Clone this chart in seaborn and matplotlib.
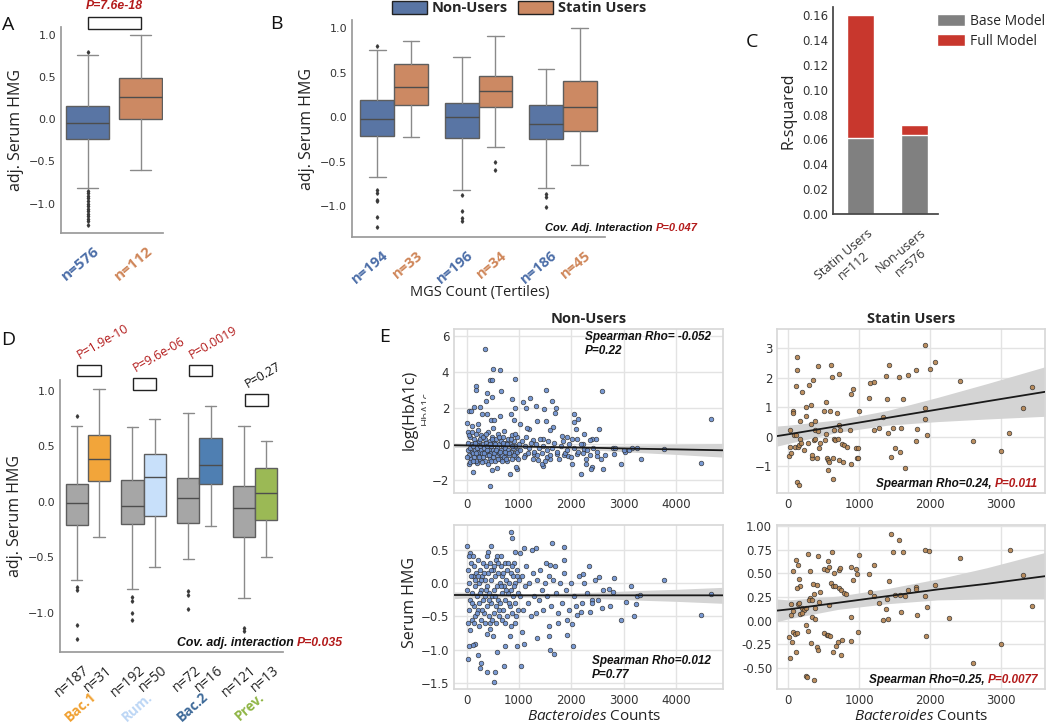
import numpy as np
import pandas as pd
import matplotlib
matplotlib.use('Agg')
import matplotlib.pyplot as plt
import seaborn as sns
from matplotlib.patches import Rectangle, Patch
from matplotlib.transforms import Bbox, ScaledTranslation, blended_transform_factory

#colours
NU_BOX = '#5975a4'
ST_BOX = '#cc8963'
NU_TXT = '#4c6ea8'
ST_TXT = '#cf8659'
PRED = '#b31b1b'
NU_PT = '#6b8fd0'
ST_PT = '#b5834f'
BI = dict(family=['Liberation Sans', 'DejaVu Sans'], fontweight='bold', style='italic')

# ---------------- panel A
a_labels = ['n=576', 'n=112']
a_med = [-0.04, 0.26]
a_q1 = [-0.24, 0.00]
a_q3 = [0.16, 0.49]
a_lo = [-0.82, -0.60]
a_hi = [0.76, 1.00]
a_fliers = [[0.80, -0.85, -0.88, -0.91, -0.94, -0.97, -1.00, -1.03, -1.06, -1.09,
             -1.12, -1.15, -1.18, -1.21, -1.25], []]
a_pval = 'P=7.6e-18'
a_bracket = [1.07, 1.21]

# ---------------- panel B
b_labels = ['n=194', 'n=33', 'n=196', 'n=34', 'n=186', 'n=45']
b_med = [-0.02, 0.345, 0.0, 0.30, -0.075, 0.12]
b_q1 = [-0.21, 0.14, -0.24, 0.11, -0.25, -0.16]
b_q3 = [0.19, 0.60, 0.16, 0.465, 0.14, 0.41]
b_lo = [-0.67, -0.22, -0.82, -0.34, -0.80, -0.54]
b_hi = [0.76, 0.86, 0.68, 0.92, 0.54, 1.00]
b_fliers = [[0.80, -0.82, -0.85, -0.93, -0.95, -1.13, -1.24], [],
            [-0.88, -1.06, -1.14, -1.17], [-0.51, -0.60],
            [-0.87, -0.90, -1.01], []]

# ---------------- panel C
c_groups = ['Statin Users\nn=112', 'Non-users\nn=576']
c_base = [0.061, 0.064]
c_full = [0.160, 0.072]
c_yticks = [0.00, 0.02, 0.04, 0.06, 0.08, 0.10, 0.12, 0.14, 0.16]

# ---------------- panel D
d_labels = ['n=187', 'n=31', 'n=192', 'n=50', 'n=72', 'n=16', 'n=121', 'n=13']
d_groups = ['Bac.1', 'Rum.', 'Bac.2', 'Prev.']
d_group_cols = ['#f0a030', '#bcd6f5', '#3e6a99', '#8fb545']
d_box_cols = ['#a6a6a6', '#f2a53a', '#a6a6a6', '#c8e0fa', '#a6a6a6', '#4f7fb2', '#a6a6a6', '#9bb955']
d_med = [-0.015, 0.386, -0.036, 0.225, 0.036, 0.332, -0.057, 0.078]
d_q1 = [-0.21, 0.186, -0.198, -0.13, -0.186, 0.162, -0.314, -0.162]
d_q3 = [0.162, 0.605, 0.195, 0.434, 0.21, 0.575, 0.144, 0.305]
d_lo = [-0.70, -0.317, -0.78, -0.59, -0.518, -0.213, -0.865, -0.497]
d_hi = [0.686, 1.01, 0.67, 0.74, 0.80, 0.865, 0.686, 0.545]
d_fliers = [[0.77, -0.77, -0.79, -1.11, -1.23], [], [-0.86, -0.89, -1.0, -1.06], [],
            [-0.80, -0.84, -0.96], [], [-1.13, -1.16], []]
d_pvals = ['P=1.9e-10', 'P=9.6e-06', 'P=0.0019', 'P=0.27']
d_pcols = [PRED, PRED, PRED, '#111111']
d_br_lo = [1.13, 1.009, 1.13, 0.865]
d_br_hi = [1.234, 1.114, 1.234, 0.97]

# ---------------- panel E  (x = Bacteroides counts, y = value)
st_hba1c = [(127, 2.70), (117, 2.27), (413, 2.40), (600, 2.44), (708, 2.12), (610, 2.02), (1918, 3.12),
            (1421, 2.44), (1374, 2.06), (1562, 2.04), (1679, 2.09), (1801, 2.28), (1989, 2.29),
            (2064, 2.54), (2415, 1.89), (3438, 1.68), (108, 1.72), (192, 1.51), (286, 1.77), (352, 1.92),
            (886, 1.47), (914, 1.62), (1154, 1.84), (1205, 1.87), (1135, 1.33), (1384, 1.28), (1609, 1.30),
            (249, 1.02), (314, 1.08), (61, 0.87), (70, 0.82), (249, 0.70), (507, 0.87), (530, 1.19),
            (582, 0.87), (685, 0.82), (990, 0.87), (1918, 0.99), (1918, 0.60), (3306, 0.99), (1327, 0.68),
            (164, 0.53), (314, 0.45), (380, 0.53), (718, 0.41), (28, 0.25), (80, 0.08), (112, 0.08),
            (375, 0.23), (413, 0.19), (530, 0.10), (638, 0.25), (732, 0.24), (868, 0.23), (1205, 0.25),
            (1276, 0.29), (1477, 0.31), (1585, 0.32), (1806, 0.27), (1946, 0.08), (1402, 0.14), (3110, 0.12),
            (14, -0.65), (28, -0.34), (42, -0.54), (94, -0.35), (131, -0.35), (145, -0.26), (169, -0.08),
            (183, -0.20), (220, -0.45), (272, -0.20), (338, -0.70), (333, -0.60), (357, -0.11), (375, -0.06),
            (408, -0.70), (431, -0.36), (445, -0.20), (520, -0.11), (539, -0.70), (553, -0.77), (577, -0.85),
            (553, -1.13), (624, -1.41), (633, -0.70), (647, -0.08), (661, -0.09), (699, -0.07), (750, -0.25),
            (718, -0.79), (788, -0.26), (774, -0.85), (821, -0.34), (877, -0.91), (952, -0.36), (976, -0.37),
            (961, -0.70), (976, -0.73), (117, -1.52), (155, -1.63), (1440, -0.68), (1501, -0.37),
            (1576, -0.50), (1646, -1.05), (1792, -0.14), (2594, -0.15), (3002, -0.48)]

st_hmg = [(1445, 0.92), (1557, 0.85), (1477, 0.72), (1609, 0.73), (1923, 0.75), (1984, 0.74), (3119, 0.75),
          (2415, 0.66), (281, 0.70), (413, 0.68), (619, 0.72), (990, 0.69), (108, 0.64), (131, 0.59),
          (61, 0.52), (305, 0.52), (563, 0.63), (502, 0.55), (539, 0.54), (577, 0.57), (638, 0.50),
          (713, 0.54), (727, 0.56), (886, 0.57), (948, 0.55), (961, 0.49), (914, 0.43), (1130, 0.49),
          (1201, 0.59), (1421, 0.42), (2059, 0.38), (3306, 0.48), (155, 0.44), (164, 0.37), (117, 0.35),
          (342, 0.39), (399, 0.38), (446, 0.30), (305, 0.24), (357, 0.28), (600, 0.40), (633, 0.37),
          (652, 0.37), (718, 0.35), (746, 0.32), (779, 0.29), (1144, 0.30), (1205, 0.26), (1688, 0.32),
          (1646, 0.26), (1792, 0.36), (1797, 0.34), (1571, 0.27), (1501, 0.27), (1923, 0.26), (811, 0.28),
          (37, 0.18), (131, 0.18), (145, 0.19), (70, 0.10), (197, 0.13), (220, 0.11), (249, 0.13),
          (286, 0.22), (333, 0.22), (380, 0.13), (427, 0.20), (572, 0.17), (1271, 0.19), (1384, 0.23),
          (1374, 0.12), (1581, 0.09), (1946, 0.14), (3438, 0.16), (33, 0.06), (164, 0.07), (192, 0.08),
          (333, 0.04), (371, 0.02), (877, 0.04), (1327, 0.01), (1402, 0.02), (1806, 0.06), (2256, 0.03),
          (9, -0.17), (47, -0.22), (70, -0.12), (89, -0.14), (127, -0.13), (108, -0.33), (23, -0.39),
          (249, -0.05), (277, -0.11), (314, -0.24), (408, -0.28), (413, -0.31), (502, -0.13), (539, -0.15),
          (558, -0.15), (586, -0.16), (633, -0.33), (675, -0.27), (694, -0.22), (741, -0.36), (755, -0.20),
          (877, -0.21), (980, -0.12), (1932, -0.16), (3002, -0.25), (253, -0.58), (263, -0.59),
          (361, -0.63), (2594, -0.45)]

nu_hba1c = [(351, 5.28), (498, 4.17), (632, 4.11), (447, 3.56), (479, 3.56), (932, 3.61), (172, 3.22),
            (172, 3.04), (396, 2.87), (485, 2.63), (376, 2.39), (651, 2.96), (1512, 3.04), (2584, 2.96),
            (1219, 2.57), (868, 2.54), (1627, 2.41), (1072, 2.37), (1327, 2.13), (1129, 2.00), (1474, 1.94),
            (925, 2.04), (45, 1.83), (83, 1.85), (134, 2.06), (249, 2.07), (389, 1.70), (466, 1.35),
            (530, 1.33), (645, 1.56), (842, 1.70), (906, 1.33), (1021, 1.15), (1187, 0.87), (1346, 1.30),
            (1525, 1.30), (1703, 2.04), (1697, 1.76), (1659, 0.96), (2054, 1.67), (2137, 1.39), (2054, 1.24),
            (2086, 0.83), (2539, 0.87), (4677, 1.39), (2239, 0.59), (2475, 0.28), (2392, 0.28), (6, 1.19),
            (96, 1.00), (32, 0.69), (300, 1.67), (223, 1.15), (510, 0.93), (715, 0.74), (1148, 0.93),
            (1263, 0.26), (1461, 0.28), (1589, 0.78), (1818, 0.48), (1914, 0.41), (2010, 0.30), (2105, 0.28),
            (2233, 0.04), (2361, 0.26), (2794, -0.19), (2839, -0.19), (3030, -0.43), (3158, -0.19),
            (3254, -0.19), (3337, -0.83), (2948, -1.11), (2820, -0.56), (2654, -0.61), (2488, -0.65),
            (2616, -1.35), (2392, -1.26), (2373, -1.39), (2188, -1.63), (2278, -1.07), (2278, -0.80),
            (3777, -0.26), (4479, -1.02), (3113, -0.30), (2999, -0.33), (2246, -0.24), (2105, -0.52),
            (2010, -1.07), (1946, -0.67), (1869, -0.61), (1735, -0.52), (1595, -0.80), (1544, -0.70),
            (1467, -1.22), (1436, -1.07), (1372, -0.89), (1289, -0.52), (1123, -0.61), (970, -1.39),
            (944, -1.26), (829, -1.63), (587, -1.30), (491, -1.44), (447, -2.30), (115, -1.54), (191, -1.04),
            (45, -1.11), (402, -1.11),
            (20, -0.3), (35, 0.1), (50, -0.6), (60, -0.2), (75, 0.4), (85, -0.8), (95, -0.4), (110, 0.0),
            (120, -0.5), (130, -0.1), (140, 0.3), (150, -0.7), (160, -0.3), (175, 0.6), (185, -0.9),
            (195, -0.2), (205, 0.1), (215, -0.6), (230, -0.4), (240, 0.2), (250, -0.1), (260, -0.8),
            (275, -0.3), (285, 0.5), (295, -0.5), (305, 0.0), (320, -0.7), (330, -0.2), (345, 0.3),
            (355, -0.9), (365, -0.4), (380, 0.1), (390, -0.6), (400, -0.1), (415, 0.7), (425, -0.3),
            (440, -0.8), (450, 0.2), (460, -0.5), (475, -0.1), (485, 0.4), (500, -0.7), (510, -0.3),
            (525, 0.1), (540, -0.9), (550, -0.4), (565, 0.3), (575, -0.6), (590, -0.2), (600, 0.6),
            (615, -0.5), (625, 0.0), (640, -0.8), (650, -0.3), (665, 0.2), (680, -0.6), (690, -0.1),
            (705, 0.4), (720, -0.7), (735, -0.2), (750, 0.1), (760, -0.5), (775, -0.9), (790, 0.3),
            (800, -0.3), (815, -0.6), (830, 0.0), (845, -0.4), (860, 0.5), (875, -0.8), (890, -0.2),
            (905, 0.2), (920, -0.5), (935, -0.1), (950, -0.7), (965, 0.4), (980, -0.3), (995, 0.0),
            (15, -0.7), (45, 0.5), (70, -1.0), (100, 0.7), (125, -0.9), (155, 0.1), (180, -0.5), (210, 0.8),
            (235, -0.7), (265, 0.3), (290, -1.0), (315, 0.4), (340, -0.5), (370, 0.6), (395, -0.3),
            (420, -0.6), (445, 0.0), (470, -0.9), (495, 0.3), (520, -0.5), (545, 0.0), (570, -0.3),
            (595, -0.8), (620, 0.4), (645, -0.4), (670, -0.9), (700, 0.1), (725, -0.4), (755, -0.8),
            (780, 0.0), (810, -0.5), (840, 0.3), (870, -0.1), (900, -0.6), (930, 0.6), (960, -0.4),
            (990, -0.8), (1030, -0.3), (1060, 0.2), (1090, -0.7), (1110, -0.1), (1140, 0.4), (1170, -0.5),
            (1200, -0.2), (1230, 0.1), (1260, -0.8), (1290, -0.4), (1320, 0.0), (1350, -0.6), (1380, -0.2),
            (1410, 0.3), (1440, -0.5), (1470, -0.1), (1500, -0.9), (1530, -0.3), (1560, 0.2), (1600, -0.6),
            (1640, -0.2), (1680, 0.1), (1720, -0.4), (1760, -0.8), (1800, -0.1), (1840, 0.2), (1880, -0.5),
            (1920, -0.3), (1960, 0.0), (2000, -0.7), (2060, -0.2), (2120, -0.4), (2180, 0.0), (2230, -0.5),
            (2300, -0.3), (2350, -0.6), (2420, -0.2), (2500, -0.4), (2560, -0.8)]

nu_hmg = [(842, 0.76), (874, 0.68), (13, 0.56), (472, 0.55), (1633, 0.60), (1869, 0.54), (1869, 0.35),
          (1104, 0.52), (1321, 0.52), (1257, 0.49), (64, 0.45), (415, 0.47), (925, 0.46), (587, 0.40),
          (651, 0.40), (1021, 0.45), (1512, 0.30), (1595, 0.27), (1697, 0.25), (2341, 0.26), (2233, 0.13),
          (3777, 0.05), (2820, 0.07), (3139, -0.04), (2539, 0.09), (2718, -0.09), (2616, -0.10),
          (2807, -0.14), (3254, -0.19), (3318, -0.18), (4677, -0.17), (3037, -0.29), (3235, -0.31),
          (2954, -0.55), (3190, -0.50), (4485, -0.48), (2743, -0.35), (2597, -0.37), (2392, -0.25),
          (2367, -0.43), (2182, -0.44), (2105, -0.48), (1914, -0.55), (2010, -0.61), (2041, -0.95),
          (1914, -0.78), (1755, -0.60), (1576, -0.64), (1583, -0.80), (1595, -1.00), (1672, -1.07),
          (1352, -0.83), (1053, -0.73), (1104, -0.91), (1040, -1.24), (957, -0.94), (829, -0.80),
          (734, -0.94), (715, -1.24), (574, -1.03), (542, -1.33), (523, -1.48), (383, -1.34), (255, -1.27),
          (268, -1.20), (223, -1.08), (160, -0.91), (115, -0.93), (51, -0.95), (32, -1.14), (498, -0.80),
          (396, -0.76), (447, -0.69),
          (15, -0.1), (30, 0.2), (45, -0.4), (55, 0.0), (70, -0.25), (85, 0.3), (95, -0.55), (110, -0.15),
          (120, 0.1), (135, -0.35), (145, 0.25), (160, -0.05), (170, -0.5), (185, 0.15), (195, -0.2),
          (210, 0.35), (220, -0.4), (235, 0.0), (245, -0.3), (260, 0.2), (270, -0.1), (285, -0.55),
          (295, 0.1), (310, -0.25), (320, 0.3), (335, -0.45), (345, 0.05), (360, -0.2), (375, 0.25),
          (385, -0.35), (400, -0.05), (410, 0.15), (425, -0.5), (435, -0.15), (450, 0.3), (460, -0.3),
          (475, 0.05), (490, -0.2), (500, 0.2), (515, -0.45), (525, -0.1), (540, 0.1), (555, -0.35),
          (565, 0.35), (580, -0.05), (595, -0.25), (605, 0.15), (620, -0.5), (630, 0.0), (645, -0.3),
          (660, 0.25), (670, -0.15), (685, 0.1), (700, -0.4), (715, -0.05), (725, 0.3), (740, -0.25),
          (755, 0.05), (770, -0.5), (780, 0.2), (795, -0.15), (810, 0.0), (825, -0.35), (840, 0.15),
          (850, -0.1), (865, -0.45), (880, 0.1), (895, -0.2), (905, 0.3), (920, -0.3), (935, 0.0),
          (950, -0.5), (965, 0.2), (980, -0.15), (995, 0.05), (25, -0.6), (40, 0.4), (65, -0.7), (80, 0.1),
          (105, -0.3), (125, 0.4), (150, -0.6), (165, 0.05), (190, -0.45), (215, 0.1), (230, -0.65),
          (255, -0.15), (280, 0.05), (300, -0.4), (325, 0.15), (350, -0.6), (370, -0.1), (395, 0.4),
          (420, -0.25), (445, -0.6), (470, 0.2), (495, -0.55), (520, 0.25), (545, -0.2), (570, -0.6),
          (600, 0.3), (625, -0.4), (650, -0.05), (675, -0.55), (705, 0.15), (730, -0.6), (760, -0.1),
          (790, 0.3), (815, -0.3), (845, -0.65), (870, 0.25), (900, -0.05), (925, -0.6), (955, 0.1),
          (985, -0.4), (1020, -0.2), (1050, 0.1), (1080, -0.4), (1110, -0.05), (1140, 0.25), (1170, -0.3),
          (1200, 0.0), (1230, -0.5), (1260, 0.15), (1290, -0.2), (1320, -0.45), (1350, 0.05), (1380, -0.25),
          (1410, 0.2), (1440, -0.1), (1470, -0.4), (1500, 0.0), (1540, -0.2), (1580, 0.1), (1620, -0.35),
          (1660, 0.05), (1700, -0.15), (1740, -0.45), (1780, 0.0), (1820, -0.3), (1860, 0.15), (1900, -0.1),
          (1950, -0.4), (2000, 0.0), (2050, -0.2), (2100, -0.35), (2150, 0.1), (2200, -0.3), (2250, 0.0),
          (2300, -0.15), (2400, -0.3), (2450, 0.05), (2520, -0.25)]

# regression line and confidence band
nu_fit_x = [-240, 0, 800, 1600, 2400, 3200, 4000, 4900]
nu_hba1c_fit = [-0.05, -0.06, -0.11, -0.15, -0.19, -0.24, -0.28, -0.33]
nu_hba1c_lo = [-0.17, -0.16, -0.17, -0.22, -0.31, -0.44, -0.56, -0.71]
nu_hba1c_hi = [0.07, 0.04, -0.05, -0.08, -0.07, -0.04, 0.00, 0.05]
nu_hmg_fit = [-0.18, -0.18, -0.185, -0.185, -0.185, -0.185, -0.185, -0.185]
nu_hmg_lo = [-0.235, -0.225, -0.21, -0.215, -0.23, -0.255, -0.275, -0.305]
nu_hmg_hi = [-0.135, -0.14, -0.16, -0.155, -0.14, -0.115, -0.095, -0.065]
st_fit_x = [-160, 0, 700, 1400, 2100, 2800, 3615]
st_hba1c_fit = [0.03, 0.09, 0.37, 0.65, 0.93, 1.21, 1.53]
st_hba1c_lo = [-0.31, -0.22, 0.16, 0.40, 0.52, 0.61, 0.70]
st_hba1c_hi = [0.37, 0.40, 0.58, 0.90, 1.34, 1.81, 2.38]
st_hmg_fit = [0.107, 0.12, 0.19, 0.26, 0.33, 0.39, 0.47]
st_hmg_lo = [-0.01, 0.02, 0.12, 0.18, 0.22, 0.23, 0.23]
st_hmg_hi = [0.23, 0.22, 0.26, 0.34, 0.44, 0.56, 0.72]

W, H = 1050, 726
sns.set_theme(style='white')
plt.rcParams['font.family'] = ['Open Sans', 'DejaVu Sans']
plt.rcParams['mathtext.fontset'] = 'custom'
plt.rcParams['mathtext.it'] = 'Open Sans:italic'
plt.rcParams['mathtext.rm'] = 'Open Sans'

fig = plt.figure(figsize=(W / 100, H / 100), dpi=100)
fig.patch.set_facecolor('white')


def add_ax(l, r, t, b):
    return fig.add_axes([l / W, 1 - b / H, (r - l) / W, (b - t) / H])


def ftext(x, y, s, **kw):
    return fig.text(x / W, 1 - y / H, s, **kw)


def shift(lbls, dx):
    for t in lbls:
        t.set_transform(t.get_transform() + ScaledTranslation(dx / 100, 0, fig.dpi_scale_trans))


def style_box_ax(ax, ysize=8):
    sns.despine(ax=ax)
    for s in ['left', 'bottom']:
        ax.spines[s].set_color('#9a9a9a')
    ax.tick_params(labelfontfamily='DejaVu Sans', labelsize=ysize, colors='#333333', length=0)
    ax.tick_params(axis='x', pad=8)
    ax.set_ylim(-1.35, 1.095)
    ax.set_yticks([-1.0, -0.5, 0.0, 0.5, 1.0])


def draw_boxes(ax, pos, width, med, q1, q3, lo, hi, fliers, cols):
    stats = [dict(med=m, q1=a, q3=b, whislo=l, whishi=h, fliers=f)
             for m, a, b, l, h, f in zip(med, q1, q3, lo, hi, fliers)]
    bp = ax.bxp(stats, positions=pos, widths=width, patch_artist=True, manage_ticks=False,
                boxprops=dict(edgecolor='#5e5e5e', linewidth=1.0),
                whiskerprops=dict(color='#8a8a8a', linewidth=1.0),
                capprops=dict(color='#8a8a8a', linewidth=1.0),
                medianprops=dict(color='#4d4d4d', linewidth=1.0),
                flierprops=dict(marker='d', markersize=1.8, markerfacecolor='#3a3a3a',
                                markeredgecolor='#3a3a3a'))
    for patch, c in zip(bp['boxes'], cols):
        patch.set_facecolor(c)


# ================= A
axa = add_ax(61, 163, 27, 233)
style_box_ax(axa)
draw_boxes(axa, [0, 1], 0.8, a_med, a_q1, a_q3, a_lo, a_hi, a_fliers, [NU_BOX, ST_BOX])
axa.set_xlim(-0.5, 1.42)
axa.set_xticks([0, 1])
axa.set_xticklabels(a_labels, rotation=40, ha='right', rotation_mode='anchor',
                    fontsize=11, fontweight='bold', fontfamily='Open Sans')
for t, c in zip(axa.get_xticklabels(), [NU_TXT, ST_TXT]):
    t.set_color(c)
shift(axa.get_xticklabels(), 5)
axa.set_ylabel('adj. Serum HMG', fontsize=11.5, color='#222222')
axa.add_patch(Rectangle((0, a_bracket[0]), 1, a_bracket[1] - a_bracket[0], facecolor='white',
                        edgecolor='#222222', lw=1, clip_on=False))
axa.text(0.5, a_bracket[1] + 0.06, a_pval, ha='center', va='bottom', color=PRED,
         fontsize=8.8, **BI)

# ================= B
axb = add_ax(352, 605, 20, 237)
style_box_ax(axb)
b_pos = [-0.2, 0.2, 0.8, 1.2, 1.8, 2.2]
draw_boxes(axb, b_pos, 0.4, b_med, b_q1, b_q3, b_lo, b_hi, b_fliers, [NU_BOX, ST_BOX] * 3)
axb.set_xlim(-0.5, 2.5)
axb.set_xticks(b_pos)
axb.set_xticklabels(b_labels, rotation=40, ha='right', rotation_mode='anchor',
                    fontsize=10.5, fontweight='bold', fontfamily='Open Sans')
for t, c in zip(axb.get_xticklabels(), [NU_TXT, ST_TXT] * 3):
    t.set_color(c)
shift(axb.get_xticklabels(), 5)
axb.set_ylabel('adj. Serum HMG', fontsize=11.5, color='#222222')
ftext(480, 292, 'MGS Count (Tertiles)', ha='center', va='center', fontsize=10.5, color='#222222')
pb = ftext(545, 228, 'Cov. Adj. Interaction ', ha='left', va='center', fontsize=8,
           color='#111111', **BI)
axb.annotate('P=0.047', xy=(1, 0.5), xycoords=pb, ha='left', va='center', fontsize=8,
             color=PRED, annotation_clip=False, **BI)
fig.legend(handles=[Patch(facecolor=NU_BOX, edgecolor='#222222'),
                    Patch(facecolor=ST_BOX, edgecolor='#222222')],
           labels=['Non-Users', 'Statin Users'], loc='center', bbox_to_anchor=(519 / W, 1 - 8 / H),
           ncol=2, frameon=False, prop=dict(family='Open Sans', weight='bold', size=10.5),
           handlelength=2.4, handleheight=1.0, handletextpad=0.3, columnspacing=0.75,
           borderpad=0, borderaxespad=0)

# ================= C
axc = add_ax(833, 938, 7, 214)
sns.barplot(x=c_groups, y=c_full, color='#c8372d', saturation=1, width=0.49,
            edgecolor='white', linewidth=1, ax=axc)
sns.barplot(x=c_groups, y=c_base, color='#808080', saturation=1, width=0.49,
            edgecolor='white', linewidth=1, ax=axc)
sns.despine(ax=axc)
for s in ['left', 'bottom']:
    axc.spines[s].set_color('#444444')
axc.set_xlim(-0.51, 1.44)
axc.set_ylim(0, 0.1667)
axc.set_yticks(c_yticks)
axc.set_yticklabels(['%.2f' % v for v in c_yticks])
axc.tick_params(labelfontfamily='DejaVu Sans', labelsize=8.5, colors='#333333', length=0)
axc.tick_params(axis='x', pad=9)
axc.set_xticks([0, 1])
axc.set_xticklabels(c_groups, rotation=40, ha='right', rotation_mode='anchor', fontsize=9,
                    fontfamily='Open Sans', multialignment='center')
shift(axc.get_xticklabels(), 6)
axc.set_ylabel('R-squared', fontsize=11.5, color='#222222')
axc.legend(handles=[Patch(facecolor='#808080'), Patch(facecolor='#c8372d')],
           labels=['Base Model', 'Full Model'], loc='upper left',
           bbox_to_anchor=(937 / W, 1 - 14 / H), bbox_transform=fig.transFigure,
           frameon=False, prop=dict(family='Open Sans', size=10), handlelength=2.0,
           handleheight=1.0, handletextpad=0.35, labelspacing=0.35, borderpad=0, borderaxespad=0)

# ================= D
axd = add_ax(60, 283, 380, 652)
style_box_ax(axd)
d_pos = [-0.2, 0.2, 0.8, 1.2, 1.8, 2.2, 2.8, 3.2]
draw_boxes(axd, d_pos, 0.4, d_med, d_q1, d_q3, d_lo, d_hi, d_fliers, d_box_cols)
axd.set_xlim(-0.5, 3.5)
axd.set_xticks(d_pos)
axd.set_xticklabels(d_labels, rotation=40, ha='right', rotation_mode='anchor',
                    fontsize=10, fontfamily='Open Sans', color='#222222')
shift(axd.get_xticklabels(), 6)
axd.set_ylabel('adj. Serum HMG', fontsize=11.5, color='#222222')
trd = blended_transform_factory(axd.transData, axd.transAxes)
for g, (name, col) in enumerate(zip(d_groups, d_group_cols)):
    axd.text(g + 0.04, -0.138, name, transform=trd, rotation=42, ha='right', va='top',
             rotation_mode='anchor', fontsize=10, fontweight='bold', color=col)
    axd.add_patch(Rectangle((g - 0.19, d_br_lo[g]), 0.42, d_br_hi[g] - d_br_lo[g],
                            facecolor='white', edgecolor='#222222', lw=1, clip_on=False))
    axd.text(g - 0.11, d_br_hi[g] + 0.03, d_pvals[g], rotation=30, ha='left', va='bottom',
             rotation_mode='anchor', fontsize=9, color=d_pcols[g])
pd_ = ftext(343, 643, 'P=0.035', ha='right', va='center', fontsize=8.8, color=PRED, **BI)
axd.annotate('Cov. adj. interaction ', xy=(0, 0.5), xycoords=pd_, ha='right', va='center',
             fontsize=8.8, color='#111111', annotation_clip=False, **BI)


# ================= E
def scatter_panel(ax, pts, col, fx, fy, lo, hi, xlim, ylim, xticks, yticks):
    df = pd.DataFrame(pts, columns=['count', 'value'])
    ax.grid(True, color='#e3e3e3', lw=1)
    ax.set_axisbelow(True)
    for s in ax.spines.values():
        s.set_visible(True)
        s.set_color('#d8d8d8')
    ax.fill_between(fx, lo, hi, color='#d4d4d4', lw=0, zorder=1)
    sns.scatterplot(data=df, x='count', y='value', color=col, s=11, edgecolor='#2e2e2e',
                    linewidth=0.5, alpha=0.9, ax=ax, zorder=2, legend=False)
    ax.plot(fx, fy, color='#1a1a1a', lw=1.3, zorder=3)
    ax.set_xlim(*xlim)
    ax.set_ylim(*ylim)
    ax.set_xticks(xticks)
    ax.set_yticks(yticks)
    ax.set_xlabel('')
    ax.set_ylabel('')
    ax.tick_params(labelfontfamily='DejaVu Sans', labelsize=8.5, colors='#333333', length=0)


ax1 = add_ax(454, 723, 329, 493)
scatter_panel(ax1, nu_hba1c, NU_PT, nu_fit_x, nu_hba1c_fit, nu_hba1c_lo, nu_hba1c_hi,
              (-240, 4900), (-2.7, 6.4), [0, 1000, 2000, 3000, 4000], [-2, 0, 2, 4, 6])
ax2 = add_ax(777, 1045, 329, 493)
scatter_panel(ax2, st_hba1c, ST_PT, st_fit_x, st_hba1c_fit, st_hba1c_lo, st_hba1c_hi,
              (-160, 3615), (-1.9, 3.66), [0, 1000, 2000, 3000], [-1, 0, 1, 2, 3])
ax3 = add_ax(454, 723, 525, 689)
scatter_panel(ax3, nu_hmg, NU_PT, nu_fit_x, nu_hmg_fit, nu_hmg_lo, nu_hmg_hi,
              (-240, 4900), (-1.59, 0.87), [0, 1000, 2000, 3000, 4000], [-1.5, -1.0, -0.5, 0.0, 0.5])
ax4 = add_ax(777, 1045, 525, 689)
scatter_panel(ax4, st_hmg, ST_PT, st_fit_x, st_hmg_fit, st_hmg_lo, st_hmg_hi,
              (-160, 3615), (-0.72, 1.01), [0, 1000, 2000, 3000],
              [-0.50, -0.25, 0.0, 0.25, 0.5, 0.75, 1.0])
ax4.set_yticklabels(['%.2f' % v for v in ax4.get_yticks()])

ax1.set_title('Non-Users', fontsize=10.5, fontweight='bold', pad=4)
ax2.set_title('Statin Users', fontsize=10.5, fontweight='bold', pad=4)

ax1.text(0.487, 0.985, 'Spearman Rho= -0.052\nP=0.22', transform=ax1.transAxes, ha='left',
         va='top', fontsize=8.5, color='#111111', **BI)
ax3.text(0.513, 0.128, 'Spearman Rho=0.012\nP=0.77', transform=ax3.transAxes, ha='left',
         va='center', fontsize=8.5, color='#111111', **BI)
for ax, p, rho, yy in [(ax2, 'P=0.011', 'Spearman Rho=0.24, ', 0.052),
                       (ax4, 'P=0.0077', 'Spearman Rho=0.25, ', 0.055)]:
    tp = ax.text(0.974, yy, p, transform=ax.transAxes, ha='right', va='center', fontsize=8.5,
                 color=PRED, **BI)
    ax.annotate(rho, xy=(0, 0.5), xycoords=tp, ha='right', va='center', fontsize=8.5,
                color='#111111', **BI)

ftext(410, 410, 'log(HbA1c)', rotation=90, ha='center', va='center', fontsize=11.5, color='#222222')
ghost = ftext(426, 408, 'HbA1c', rotation=90, ha='center', va='center', fontsize=8, color='#444444')
ghost.set_clip_box(Bbox([[419, 0], [426, H]]))
ghost.set_clip_on(True)
ftext(410, 603, 'Serum HMG', rotation=90, ha='center', va='center', fontsize=11.5, color='#222222')
ftext(594, 716, r'$\mathit{Bacteroides}$ Counts', ha='center', va='center', fontsize=11, color='#222222')
ftext(921, 716, r'$\mathit{Bacteroides}$ Counts', ha='center', va='center', fontsize=11, color='#222222')

# panel letters
for letter, x, y in [('A', 8, 25), ('B', 276, 24), ('C', 752, 42), ('D', 8, 340), ('E', 385, 337)]:
    ftext(x, y, letter, ha='center', va='center', fontsize=14, color='#111111')

fig.savefig('out.png', dpi=100, facecolor='white')
